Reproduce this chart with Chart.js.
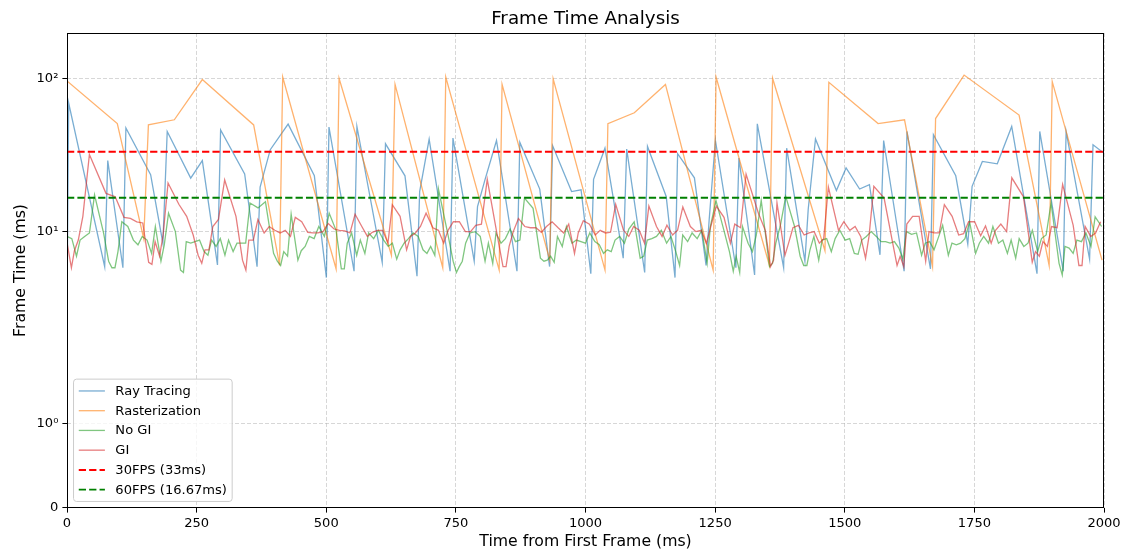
<!DOCTYPE html>
<html>
<head>
<meta charset="utf-8">
<title>Frame Time Analysis</title>
<script src="https://cdn.jsdelivr.net/npm/chart.js@4.4.1/dist/chart.umd.min.js"></script>
<style>
  html, body { margin: 0; padding: 0; background: #fff; }
  #wrap { width: 1126px; height: 554px; }
</style>
</head>
<body>
<div id="wrap"><canvas id="chart" width="1126" height="554"></canvas></div>
<script>
// DATA
// =============================================================================
// Frame times (ms) in frame order. The x position of a frame is the time
// elapsed since the first frame, i.e. the running total of earlier frames.

const rayTracingMs = [
  3.2, 69.5, 5.9, 29.2, 5.8, 47.7, 23.6, 8.4, 45.3, 22.4, 29.2, 6.05, 46.4, 23.9, 5.9, 19.6,
  34.4, 50.6, 23.2, 5, 48.4, 5.5, 48.8, 6.3, 37.6, 23.2, 5.1, 18.3, 40.4, 5.5, 41, 6.4,
  14.6, 22, 39.5, 5.5, 38.4, 19, 5.9, 36.5, 18.3, 18.8, 5.3, 22, 35.2, 6.7, 34.7, 5.4,
  36.1, 17, 5, 32.4, 22.5, 6, 12, 39.5, 5.8, 30.3, 5.2, 50.8, 5.8, 35.2, 6.4, 14,
  40.4, 18.6, 26.1, 19, 20.3, 7.05, 39.5, 5.5, 45.3, 5.7, 43.1, 23.2, 8.3, 19.8, 28.8, 27.8,
  48.8, 5.3, 45.3, 5.5, 45.3, 6.6, 37.1, 29.6
];

const rasterizationMs = [
  97, 51, 9, 50, 54, 99, 50, 6, 103, 5.7, 101, 7, 92, 5.8, 103, 5.6, 92, 6.5, 100, 5.6,
  51, 60, 92, 5.6, 103, 6, 101, 7.5, 95, 51, 54, 5.9, 55, 106, 58, 6, 96, 6.5
];

const noGiMs = [
  9.3, 9.0, 6.9, 8.8, 9.3, 9.8, 17.4, 9.8, 6.4, 5.8, 5.8, 7.4, 11.6, 10.8, 8.8, 8.2, 9.3, 8.8,
  7.2, 10.8, 6.4, 8.2, 13.2, 10, 5.6, 5.4, 8.6, 8.4, 8.6, 8.8, 7.4, 7.0, 8.8, 8.0, 9.0, 7.0,
  8.8, 7.4, 8.4, 8.4, 8.4, 15.4, 14.3, 15.7, 7.2, 6.4, 6.0, 7.4, 6.9, 13.0, 6.5, 7.5, 8.0, 9.3,
  9.0, 10.8, 9.3, 13.2, 10.2, 5.7, 5.7, 8.4, 9.8, 7.0, 8.8, 7.2, 9.8, 9.0, 10.2, 8.8, 8.0, 8.4,
  6.6, 7.6, 8.4, 9.0, 9.8, 9.3, 7.6, 7.2, 8.0, 7.0, 19.0, 9.3, 6.4, 5.4, 5.9, 6.4, 8.4, 9.8,
  10.0, 9.3, 6.4, 8.4, 6.2, 9.8, 8.4, 9.0, 10.4, 8.6, 8.8, 16.6, 14.2, 6.7, 6.4, 6.5, 6.9, 6.3,
  9.3, 8.0, 10.8, 8.4, 8.8, 8.6, 8.4, 9.8, 8.6, 8.2, 7.2, 7.6, 7.4, 8.8, 9.3, 8.4, 10.4, 11.6,
  6.7, 6.9, 8.8, 9.0, 9.3, 10.2, 8.4, 9.3, 7.4, 6.0, 9.5, 8.6, 9.8, 9.0, 10.2, 6.2, 10.8, 16.0,
  10.0, 7.4, 5.5, 6.9, 5.4, 10.8, 8.4, 7.4, 9.5, 16.0, 5.9, 6.2, 8.4, 10.8, 17.0, 10.8, 6.9, 6.0,
  6.0, 7.6, 9.3, 6.5, 8.8, 9.0, 7.4, 9.0, 10.2, 8.8, 9.0, 7.2, 7.1, 8.8, 9.3, 10.0, 9.3, 8.6,
  8.6, 8.4, 8.6, 7.8, 6.6, 10.0, 9.6, 9.8, 7.0, 8.4, 8.6, 7.6, 9.0, 11.0, 7.0, 8.4, 8.2, 8.4,
  9.0, 11.6, 7.2, 8.4, 9.3, 8.4, 10.8, 8.4, 8.8, 7.2, 8.8, 6.7, 9.0, 8.0, 8.4, 10.2, 7.4, 9.0,
  9.5, 15.4, 6.2, 5.2, 8.0, 7.8, 7.2, 8.8, 8.6, 9.8, 8.0, 12.5, 10.8
];

const giMs = [
  8.5, 5.8, 7.5, 8.8, 12.6, 32, 17.8, 16.9, 12.4, 12.2, 11.6, 11.4, 6.3, 6.1, 8.6, 6.9, 9.5, 20.8,
  15.1, 12.6, 9.5, 7, 6.2, 7.6, 7.6, 10.8, 12, 21.8, 12.6, 6.5, 5.6, 8.8, 8.8, 12, 9.8, 10.8,
  10.2, 9.8, 10.2, 9.3, 12.4, 11.6, 9.9, 9.8, 9.8, 10, 11.3, 10.4, 10.2, 10.1, 9.8, 13, 10.8, 9.3,
  9.9, 10.2, 10.2, 8.4, 15, 12.6, 7.6, 9.3, 9.8, 10.8, 13.2, 10.6, 10.2, 8.4, 10.2, 11.6, 11.6, 10,
  10, 11, 11.2, 22, 8.4, 5.9, 5.9, 8, 10, 12.2, 10.8, 10.6, 10.6, 9.9, 10.8, 11.6, 10.6, 9.8,
  11.2, 7.2, 9.8, 11.8, 11.2, 9.5, 10.2, 9.8, 9.9, 15.1, 10.2, 9.3, 10.8, 10.2, 8.4, 14.7, 10.8, 9.3,
  11, 9.5, 10.2, 14.5, 10.8, 10, 10.2, 8.4, 10.8, 14.7, 12.4, 8.4, 11.2, 10.6, 23.8, 13.2, 10.2, 5.9,
  6.5, 15.4, 7, 8.4, 10.6, 11, 9.5, 9.8, 10, 8.4, 9, 19.6, 10.2, 11.6, 10.2, 10.8, 9.3, 6.7,
  9.3, 19.8, 16.6, 8.4, 6, 6.9, 5.9, 11.2, 12.6, 12.6, 6.4, 10, 9.8, 9.8, 15, 12.6, 9.5, 9.7,
  11.6, 11.6, 9.4, 10.9, 8.4, 10.2, 11.2, 10, 22.5, 16.9, 6.3, 7.4, 6.9, 8.6, 8, 10.8, 10.6, 20.4,
  11, 6, 6, 10.8, 9.3, 9.8, 11.6
];

// Target frame times drawn as horizontal reference lines
const fpsTargetsMs = [1000 / 30, 1000 / 60];
const fpsLabels = ['30FPS (33ms)', '60FPS (16.67ms)'];

const seriesLabels = ['Ray Tracing', 'Rasterization', 'No GI', 'GI'];

// Axes
const X_RANGE = [0, 2000];
const X_TICK_STEP = 250;
const Y_RANGE = [0, 200];
const Y_TICKS = [0, 1, 10, 100];
const Y_TICK_LABELS = ['0', '10\u2070', '10\u00b9', '10\u00b2'];

// =============================================================================
// SYMLOG SCALE (matplotlib style: linthresh 2, linscale 1, base 10)
// =============================================================================

const LINTHRESH = 2;
const LINSCALE_ADJ = 1 / (1 - 1 / 10);

const symlog = (v) => {
  const a = Math.abs(v);
  if (a <= LINTHRESH) return v * LINSCALE_ADJ;
  return Math.sign(v) * LINTHRESH * (LINSCALE_ADJ + Math.log10(a / LINTHRESH));
};

const symexp = (t) => {
  const a = Math.abs(t);
  if (a <= LINTHRESH * LINSCALE_ADJ) return t / LINSCALE_ADJ;
  return Math.sign(t) * LINTHRESH * Math.pow(10, a / LINTHRESH - LINSCALE_ADJ);
};

class SymlogScale extends Chart.Scale {
  static id = 'symlog';
  static defaults = {};

  determineDataLimits() {
    this.min = this.options.min;
    this.max = this.options.max;
  }

  buildTicks() {
    return Y_TICKS.map(value => ({ value }));
  }

  configure() {
    super.configure();
    this._tStart = symlog(this.min);
    this._tRange = symlog(this.max) - this._tStart;
  }

  getPixelForValue(value) {
    return this.getPixelForDecimal((symlog(value) - this._tStart) / this._tRange);
  }

  getValueForPixel(pixel) {
    return symexp(this._tStart + this.getDecimalForPixel(pixel) * this._tRange);
  }
}

Chart.register(SymlogScale);

// =============================================================================
// HELPERS
// =============================================================================

const FONT = "'DejaVu Sans', 'Liberation Sans', sans-serif";

/**
 * Turns a list of frame times into points placed at their elapsed time
 */
const toPoints = (frameTimes) => {
  let t = 0;
  return frameTimes.map(ms => {
    const p = { x: t, y: ms };
    t += ms;
    return p;
  });
};

const seriesColors = [
  'rgba(31, 119, 180, 0.6)',  // blue
  'rgba(255, 127, 14, 0.6)',  // orange
  'rgba(44, 160, 44, 0.6)',   // green
  'rgba(214, 39, 40, 0.6)'    // red
];
const fpsColors = ['#ff0000', '#008000'];

const seriesData = [rayTracingMs, rasterizationMs, noGiMs, giMs];

const datasets = seriesData.map((ms, i) => ({
  label: seriesLabels[i],
  data: toPoints(ms),
  borderColor: seriesColors[i],
  borderWidth: 1.3,
  borderDash: [],
  pointRadius: 0,
  tension: 0,
  fill: false
}));

fpsTargetsMs.forEach((ms, i) => {
  datasets.push({
    label: fpsLabels[i],
    data: [{ x: X_RANGE[0], y: ms }, { x: X_RANGE[1], y: ms }],
    borderColor: fpsColors[i],
    borderWidth: 1.96,
    borderDash: [7.25, 3.14],
    pointRadius: 0,
    tension: 0,
    fill: false
  });
});

// later datasets on top, like matplotlib
datasets.forEach((d, i) => { d.order = datasets.length - i; });

// Axes frame drawn over the lines
const framePlugin = {
  id: 'axesFrame',
  afterDatasetsDraw(chart) {
    const { ctx, chartArea: a } = chart;
    ctx.save();
    ctx.strokeStyle = '#000';
    ctx.lineWidth = 1;
    ctx.strokeRect(Math.round(a.left) + 0.5, Math.round(a.top) + 0.5,
      Math.round(a.right - a.left) - 1, Math.round(a.bottom - a.top) - 1);
    ctx.restore();
  }
};

// Legend inside the axes, lower left
const legendPlugin = {
  id: 'insideLegend',
  afterDraw(chart) {
    const { ctx, chartArea } = chart;
    const fs = 13.07;
    const pad = 0.4 * fs;
    const handleLen = 2 * fs;
    const textPad = 0.8 * fs;
    const rowGap = 0.5 * fs;
    const rowH = 13.2;
    const items = chart.data.datasets;

    ctx.save();
    ctx.font = `${fs}px ${FONT}`;
    const textW = Math.max(...items.map(d => ctx.measureText(d.label).width));
    const w = pad * 2 + handleLen + textPad + textW;
    const h = pad * 2 + items.length * rowH + (items.length - 1) * rowGap;
    const x = chartArea.left + 0.5 * fs;
    const y = chartArea.bottom - 0.5 * fs - h;

    ctx.beginPath();
    ctx.roundRect(x, y, w, h, 3);
    ctx.fillStyle = 'rgba(255, 255, 255, 0.8)';
    ctx.fill();
    ctx.strokeStyle = '#cccccc';
    ctx.lineWidth = 1;
    ctx.stroke();

    items.forEach((d, i) => {
      const cy = y + pad + i * (rowH + rowGap) + rowH / 2;
      ctx.beginPath();
      ctx.setLineDash(d.borderDash || []);
      ctx.strokeStyle = d.borderColor;
      ctx.lineWidth = d.borderWidth;
      ctx.moveTo(x + pad, cy);
      ctx.lineTo(x + pad + handleLen, cy);
      ctx.stroke();
      ctx.setLineDash([]);
      ctx.fillStyle = '#000';
      ctx.textBaseline = 'middle';
      ctx.textAlign = 'left';
      ctx.fillText(d.label, x + pad + handleLen + textPad, cy + 0.5);
    });
    ctx.restore();
  }
};

// =============================================================================
// CHART
// =============================================================================

const gridOpts = {
  color: 'rgba(176, 176, 176, 0.5)',
  lineWidth: 1,
  drawTicks: true,
  tickLength: 4.6,
  tickColor: '#000',
  tickWidth: 1,
  tickBorderDash: []
};

new Chart(document.getElementById('chart').getContext('2d'), {
  type: 'line',
  data: { datasets },
  options: {
    responsive: false,
    animation: false,
    events: [],
    layout: { padding: { top: 0, right: 22, bottom: 0, left: 0 } },
    plugins: {
      legend: { display: false },
      tooltip: { enabled: false },
      title: {
        display: true,
        text: 'Frame Time Analysis',
        fullSize: false,
        color: '#000',
        font: { family: FONT, size: 18.3, weight: 'normal', lineHeight: 1.2 },
        padding: { top: 8, bottom: 3 }
      }
    },
    scales: {
      x: {
        type: 'linear',
        min: X_RANGE[0],
        max: X_RANGE[1],
        ticks: {
          stepSize: X_TICK_STEP,
          color: '#000',
          font: { family: FONT, size: 13.07 },
          padding: 3,
          maxRotation: 0,
          callback: (value) => String(value)
        },
        grid: gridOpts,
        border: { display: false, dash: [4, 2] },
        title: {
          display: true,
          text: 'Time from First Frame (ms)',
          color: '#000',
          font: { family: FONT, size: 15.7, lineHeight: 1.2 },
          padding: { top: 4, bottom: 2.6 }
        },
        afterFit: (s) => { s.height = 46; s.paddingLeft = 0; s.paddingRight = 0; }
      },
      y: {
        type: 'symlog',
        min: Y_RANGE[0],
        max: Y_RANGE[1],
        ticks: {
          color: '#000',
          font: { family: FONT, size: 13.07 },
          padding: 4,
          autoSkip: false,
          callback: (value) => Y_TICK_LABELS[Y_TICKS.indexOf(value)]
        },
        grid: gridOpts,
        border: { display: false, dash: [4, 2] },
        title: {
          display: true,
          text: 'Frame Time (ms)',
          color: '#000',
          font: { family: FONT, size: 15.7, lineHeight: 1.2 },
          padding: { top: 11.5, bottom: 0 }
        },
        afterFit: (s) => { s.width = 67; s.paddingTop = 0; s.paddingBottom = 0; }
      }
    }
  },
  plugins: [framePlugin, legendPlugin]
});
</script>
</body>
</html>
